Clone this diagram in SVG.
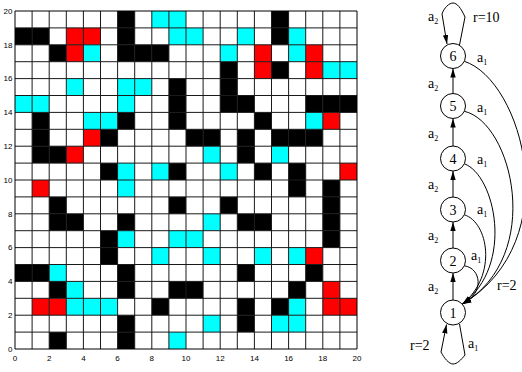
<svg xmlns="http://www.w3.org/2000/svg" width="522" height="372" viewBox="0 0 522 372">
<style>
.k{fill:#000}.r{fill:#ff0000}.c{fill:#00ffff}
.ax{font-family:"Liberation Sans",Arial,sans-serif;font-size:8px;fill:#000}
.lb{font-family:"Liberation Serif","Times New Roman",serif;font-size:14px;fill:#000}
.sb{font-size:8px}
.nd{fill:#fff;stroke:#000;stroke-width:1}
.ed{fill:none;stroke:#000;stroke-width:1}
</style>
<defs>
<marker id="ah" viewBox="0 0 10 6" refX="10" refY="3" markerWidth="9" markerHeight="5.6" markerUnits="userSpaceOnUse" orient="auto"><path d="M0,0L10,3L0,6z" fill="#000"/></marker>
</defs>
<rect width="522" height="372" fill="#fff"/>
<g id="grid">
<g transform="translate(15,349) scale(17.1,-16.9)">
<g class="k">
<rect x="6" y="19" width="1" height="1"/><rect x="15" y="19" width="1" height="1"/>
<rect x="0" y="18" width="1" height="1"/><rect x="1" y="18" width="1" height="1"/><rect x="6" y="18" width="1" height="1"/><rect x="15" y="18" width="1" height="1"/>
<rect x="2" y="17" width="1" height="1"/><rect x="6" y="17" width="1" height="1"/><rect x="7" y="17" width="1" height="1"/><rect x="8" y="17" width="1" height="1"/>
<rect x="12" y="16" width="1" height="1"/><rect x="15" y="16" width="1" height="1"/>
<rect x="9" y="15" width="1" height="1"/><rect x="12" y="15" width="1" height="1"/>
<rect x="9" y="14" width="1" height="1"/><rect x="12" y="14" width="1" height="1"/><rect x="13" y="14" width="1" height="1"/><rect x="17" y="14" width="1" height="1"/><rect x="18" y="14" width="1" height="1"/><rect x="19" y="14" width="1" height="1"/>
<rect x="1" y="13" width="1" height="1"/><rect x="6" y="13" width="1" height="1"/><rect x="9" y="13" width="1" height="1"/><rect x="14" y="13" width="1" height="1"/>
<rect x="1" y="12" width="1" height="1"/><rect x="5" y="12" width="1" height="1"/><rect x="10" y="12" width="1" height="1"/><rect x="11" y="12" width="1" height="1"/><rect x="13" y="12" width="1" height="1"/><rect x="15" y="12" width="1" height="1"/><rect x="16" y="12" width="1" height="1"/><rect x="17" y="12" width="1" height="1"/>
<rect x="1" y="11" width="1" height="1"/><rect x="2" y="11" width="1" height="1"/><rect x="13" y="11" width="1" height="1"/>
<rect x="5" y="10" width="1" height="1"/><rect x="9" y="10" width="1" height="1"/><rect x="14" y="10" width="1" height="1"/><rect x="16" y="10" width="1" height="1"/>
<rect x="16" y="9" width="1" height="1"/><rect x="18" y="9" width="1" height="1"/>
<rect x="2" y="8" width="1" height="1"/><rect x="9" y="8" width="1" height="1"/><rect x="12" y="8" width="1" height="1"/><rect x="18" y="8" width="1" height="1"/>
<rect x="2" y="7" width="1" height="1"/><rect x="3" y="7" width="1" height="1"/><rect x="6" y="7" width="1" height="1"/><rect x="13" y="7" width="1" height="1"/><rect x="14" y="7" width="1" height="1"/><rect x="18" y="7" width="1" height="1"/>
<rect x="5" y="6" width="1" height="1"/><rect x="18" y="6" width="1" height="1"/>
<rect x="5" y="5" width="1" height="1"/>
<rect x="0" y="4" width="1" height="1"/><rect x="1" y="4" width="1" height="1"/><rect x="6" y="4" width="1" height="1"/><rect x="13" y="4" width="1" height="1"/><rect x="17" y="4" width="1" height="1"/>
<rect x="2" y="3" width="1" height="1"/><rect x="6" y="3" width="1" height="1"/><rect x="9" y="3" width="1" height="1"/><rect x="10" y="3" width="1" height="1"/><rect x="16" y="3" width="1" height="1"/>
<rect x="8" y="2" width="1" height="1"/><rect x="13" y="2" width="1" height="1"/><rect x="15" y="2" width="1" height="1"/>
<rect x="6" y="1" width="1" height="1"/><rect x="13" y="1" width="1" height="1"/>
<rect x="2" y="0" width="1" height="1"/><rect x="6" y="0" width="1" height="1"/>
</g>
<g class="r">
<rect x="3" y="18" width="1" height="1"/><rect x="4" y="18" width="1" height="1"/>
<rect x="3" y="17" width="1" height="1"/><rect x="14" y="17" width="1" height="1"/><rect x="17" y="17" width="1" height="1"/>
<rect x="14" y="16" width="1" height="1"/><rect x="17" y="16" width="1" height="1"/>
<rect x="18" y="13" width="1" height="1"/>
<rect x="4" y="12" width="1" height="1"/>
<rect x="3" y="11" width="1" height="1"/>
<rect x="19" y="10" width="1" height="1"/>
<rect x="1" y="9" width="1" height="1"/>
<rect x="17" y="5" width="1" height="1"/>
<rect x="18" y="3" width="1" height="1"/>
<rect x="1" y="2" width="1" height="1"/><rect x="2" y="2" width="1" height="1"/><rect x="18" y="2" width="1" height="1"/><rect x="19" y="2" width="1" height="1"/>
</g>
<g class="c">
<rect x="8" y="19" width="1" height="1"/><rect x="9" y="19" width="1" height="1"/>
<rect x="9" y="18" width="1" height="1"/><rect x="10" y="18" width="1" height="1"/><rect x="13" y="18" width="1" height="1"/><rect x="16" y="18" width="1" height="1"/>
<rect x="4" y="17" width="1" height="1"/><rect x="12" y="17" width="1" height="1"/><rect x="16" y="17" width="1" height="1"/>
<rect x="18" y="16" width="1" height="1"/><rect x="19" y="16" width="1" height="1"/>
<rect x="3" y="15" width="1" height="1"/><rect x="6" y="15" width="1" height="1"/><rect x="7" y="15" width="1" height="1"/>
<rect x="0" y="14" width="1" height="1"/><rect x="1" y="14" width="1" height="1"/><rect x="6" y="14" width="1" height="1"/>
<rect x="4" y="13" width="1" height="1"/><rect x="5" y="13" width="1" height="1"/><rect x="17" y="13" width="1" height="1"/>
<rect x="11" y="11" width="1" height="1"/><rect x="15" y="11" width="1" height="1"/>
<rect x="6" y="10" width="1" height="1"/><rect x="8" y="10" width="1" height="1"/><rect x="12" y="10" width="1" height="1"/>
<rect x="6" y="9" width="1" height="1"/>
<rect x="11" y="7" width="1" height="1"/>
<rect x="6" y="6" width="1" height="1"/><rect x="9" y="6" width="1" height="1"/><rect x="10" y="6" width="1" height="1"/>
<rect x="8" y="5" width="1" height="1"/><rect x="11" y="5" width="1" height="1"/><rect x="14" y="5" width="1" height="1"/><rect x="16" y="5" width="1" height="1"/>
<rect x="2" y="4" width="1" height="1"/>
<rect x="3" y="3" width="1" height="1"/>
<rect x="3" y="2" width="1" height="1"/><rect x="4" y="2" width="1" height="1"/><rect x="5" y="2" width="1" height="1"/><rect x="16" y="2" width="1" height="1"/>
<rect x="11" y="1" width="1" height="1"/><rect x="15" y="1" width="1" height="1"/><rect x="16" y="1" width="1" height="1"/>
<rect x="9" y="0" width="1" height="1"/>
</g>
<path fill="none" stroke="#1a1a1a" stroke-width="1" vector-effect="non-scaling-stroke" d="M1 0V20M2 0V20M3 0V20M4 0V20M5 0V20M6 0V20M7 0V20M8 0V20M9 0V20M10 0V20M11 0V20M12 0V20M13 0V20M14 0V20M15 0V20M16 0V20M17 0V20M18 0V20M19 0V20M0 1H20M0 2H20M0 3H20M0 4H20M0 5H20M0 6H20M0 7H20M0 8H20M0 9H20M0 10H20M0 11H20M0 12H20M0 13H20M0 14H20M0 15H20M0 16H20M0 17H20M0 18H20M0 19H20"/>
<rect x="0" y="0" width="20" height="20" fill="none" stroke="#000" stroke-width="1" vector-effect="non-scaling-stroke"/>
</g>
<g class="ax" text-anchor="end">
<text x="12.5" y="351.8">0</text><text x="12.5" y="318">2</text><text x="12.5" y="284.2">4</text><text x="12.5" y="250.4">6</text><text x="12.5" y="216.6">8</text><text x="12.5" y="182.8">10</text><text x="12.5" y="149">12</text><text x="12.5" y="115.2">14</text><text x="12.5" y="81.4">16</text><text x="12.5" y="47.6">18</text><text x="12.5" y="13.8">20</text>
</g>
<g class="ax" text-anchor="middle">
<text x="15" y="360.7">0</text><text x="49.2" y="360.7">2</text><text x="83.4" y="360.7">4</text><text x="117.6" y="360.7">6</text><text x="151.8" y="360.7">8</text><text x="186" y="360.7">10</text><text x="220.2" y="360.7">12</text><text x="254.4" y="360.7">14</text><text x="288.6" y="360.7">16</text><text x="322.8" y="360.7">18</text><text x="357" y="360.7">20</text>
</g>
</g>
<g id="connectors">
<path class="ed" marker-end="url(#ah)" d="M453,300 V273"/>
<path class="ed" marker-end="url(#ah)" d="M453,248 V222"/>
<path class="ed" marker-end="url(#ah)" d="M453,197 V171"/>
<path class="ed" marker-end="url(#ah)" d="M453,146 V118.5"/>
<path class="ed" marker-end="url(#ah)" d="M453,93.5 V68.5"/>
<path class="ed" marker-end="url(#ah)" d="M459.5,45 L465,17 C461,8 457,3 453,3 C449,3 444,8 442,14 L447,44"/>
<path class="ed" marker-end="url(#ah)" d="M459.5,324 L465,355 C461,360 457,364 453,364 C449,364 444,358 441,352 L446.5,324.5"/>
<path class="ed" marker-end="url(#ah)" d="M464.3,265.8 C481,268 485,293 462.5,304"/>
<path class="ed" marker-end="url(#ah)" d="M464.3,214.8 C488,222 498,275 462.5,304"/>
<path class="ed" marker-end="url(#ah)" d="M464.3,163.8 C495,175 515,265 462.5,304"/>
<path class="ed" marker-end="url(#ah)" d="M464.3,111.3 C512,122 545,255 462.5,304"/>
<path class="ed" marker-end="url(#ah)" d="M464.3,61.3 C522,80 568,240 462.5,304"/>
<g class="lb">
<text x="428" y="21">a<tspan class="sb" dy="3">2</tspan></text>
<text x="473" y="22">r=10</text>
<text x="428" y="87.5">a<tspan class="sb" dy="3">2</tspan></text>
<text x="428" y="138">a<tspan class="sb" dy="3">2</tspan></text>
<text x="428" y="189">a<tspan class="sb" dy="3">2</tspan></text>
<text x="428" y="240">a<tspan class="sb" dy="3">2</tspan></text>
<text x="428" y="291">a<tspan class="sb" dy="3">2</tspan></text>
<text x="477" y="62">a<tspan class="sb" dy="3">1</tspan></text>
<text x="477" y="112">a<tspan class="sb" dy="3">1</tspan></text>
<text x="477" y="164">a<tspan class="sb" dy="3">1</tspan></text>
<text x="477" y="214">a<tspan class="sb" dy="3">1</tspan></text>
<text x="471" y="260">a<tspan class="sb" dy="3">1</tspan></text>
<text x="497" y="290">r=2</text>
<text x="410" y="350">r=2</text>
<text x="468" y="348">a<tspan class="sb" dy="3">1</tspan></text>
</g>
</g>
<g id="n6"><circle class="nd" cx="453" cy="56" r="12.5"/><text class="lb" x="453" y="61" text-anchor="middle">6</text></g>
<g id="n5"><circle class="nd" cx="453" cy="106" r="12.5"/><text class="lb" x="453" y="111" text-anchor="middle">5</text></g>
<g id="n4"><circle class="nd" cx="453" cy="158.5" r="12.5"/><text class="lb" x="453" y="163.5" text-anchor="middle">4</text></g>
<g id="n3"><circle class="nd" cx="453" cy="209.5" r="12.5"/><text class="lb" x="453" y="214.5" text-anchor="middle">3</text></g>
<g id="n2"><circle class="nd" cx="453" cy="260.5" r="12.5"/><text class="lb" x="453" y="265.5" text-anchor="middle">2</text></g>
<g id="n1"><circle class="nd" cx="453" cy="312.5" r="12.5"/><text class="lb" x="453" y="317.5" text-anchor="middle">1</text></g>
</svg>
